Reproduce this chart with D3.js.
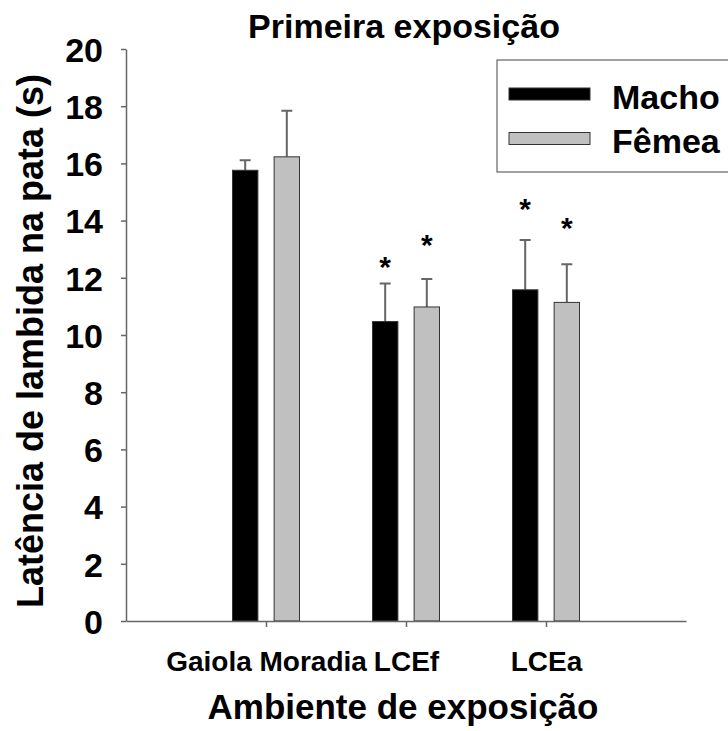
<!DOCTYPE html>
<html>
<head>
<meta charset="utf-8">
<script src="https://cdn.jsdelivr.net/npm/d3@7"></script>
<style>
  body { margin: 0; background: white; }
  svg { display: block; font-family: Arial, 'Liberation Sans', sans-serif; font-weight: bold; }
</style>
</head>
<body>
<svg width="728" height="731"></svg>
<script>
const categories = ['Gaiola Moradia', 'LCEf', 'LCEa'];
const series = ['Macho', 'Fêmea'];
const machoMeans = [15.76, 10.47, 11.58];
const machoErrors = [0.35, 1.33, 1.74];
const femeaMeans = [16.23, 10.98, 11.14];
const femeaErrors = [1.61, 0.98, 1.33];
// asterisk heights (in axis units), null = no mark
const machoStars = [null, 12.6, 14.6];
const femeaStars = [null, 13.35, 13.94];
const yTicks = [0, 2, 4, 6, 8, 10, 12, 14, 16, 18, 20];

const colors = {Macho: '#000000', 'Fêmea': '#c0c0c0'};

const svg = d3.select('svg');

const x = d3.scaleLinear().domain([0, categories.length + 1]).range([126, 686]);
const sub = d3.scaleBand().domain(series).range([-33.5, 33.5]).paddingInner(0.39);
const y = d3.scaleLinear().domain([0, 20]).range([621, 49]);

const rows = [];
categories.forEach((c, i) => {
  rows.push({cat: c, i, s: 'Macho', v: machoMeans[i], e: machoErrors[i], star: machoStars[i]});
  rows.push({cat: c, i, s: 'Fêmea', v: femeaMeans[i], e: femeaErrors[i], star: femeaStars[i]});
});
const cx = d => x(d.i + 1) + sub(d.s) + sub.bandwidth() / 2;

// error bars (upper only), drawn behind the bars
const err = svg.append('g').attr('stroke', '#666').attr('stroke-width', 2).attr('fill', 'none');
err.selectAll('path').data(rows).join('path')
  .attr('d', d => 'M ' + cx(d) + ' ' + y(d.v) + ' V ' + y(d.v + d.e) +
    ' M ' + (cx(d) - 5.5) + ' ' + y(d.v + d.e) + ' H ' + (cx(d) + 5.5));

// bars
svg.append('g').selectAll('rect').data(rows).join('rect')
  .attr('x', d => x(d.i + 1) + sub(d.s))
  .attr('y', d => y(d.v))
  .attr('width', sub.bandwidth())
  .attr('height', d => y(0) - y(d.v))
  .attr('fill', d => colors[d.s])
  .attr('stroke', '#333')
  .attr('stroke-width', 1);

// significance marks
svg.append('g').selectAll('text').data(rows.filter(d => d.star !== null)).join('text')
  .attr('x', cx)
  .attr('y', d => y(d.star) + 16)
  .attr('text-anchor', 'middle')
  .attr('font-size', 30)
  .text('*');

// y axis
const yAxis = svg.append('g')
  .attr('transform', 'translate(126, 0)')
  .call(d3.axisLeft(y).tickValues(yTicks).tickSize(5).tickPadding(18).tickSizeOuter(0));
yAxis.select('.domain').attr('stroke', '#666').attr('stroke-width', 1.5);
yAxis.selectAll('.tick line').attr('stroke', '#666').attr('stroke-width', 1.5);
yAxis.selectAll('.tick text')
  .attr('font-size', 34)
  .attr('font-family', 'Arial, "Liberation Sans", sans-serif')
  .attr('font-weight', 'bold')
  .attr('fill', '#000')
  .attr('dy', '0.36em');

// x axis
const xAxis = svg.append('g')
  .attr('transform', 'translate(0, ' + y(0) + ')')
  .call(d3.axisBottom(x).tickValues(categories.map((c, i) => i + 1))
    .tickFormat((d, i) => categories[i]).tickSize(6).tickSizeOuter(0).tickPadding(24));
xAxis.select('.domain').attr('stroke', '#666').attr('stroke-width', 1.5);
xAxis.selectAll('.tick line').attr('stroke', '#666').attr('stroke-width', 1.5);
xAxis.selectAll('.tick text')
  .attr('font-size', 28)
  .attr('font-family', 'Arial, "Liberation Sans", sans-serif')
  .attr('font-weight', 'bold')
  .attr('fill', '#000');

// titles
svg.append('text')
  .attr('x', 404).attr('y', 38)
  .attr('text-anchor', 'middle')
  .attr('font-size', 34)
  .text('Primeira exposição');

svg.append('text')
  .attr('x', 403).attr('y', 719)
  .attr('text-anchor', 'middle')
  .attr('font-size', 35)
  .text('Ambiente de exposição');

svg.append('text')
  .attr('transform', 'translate(43, 341) rotate(-90)')
  .attr('text-anchor', 'middle')
  .attr('font-size', 36)
  .text('Latência de lambida na pata (s)');

// legend
const legend = svg.append('g');
legend.append('rect')
  .attr('x', 497).attr('y', 60)
  .attr('width', 260).attr('height', 112)
  .attr('fill', 'white')
  .attr('stroke', '#444')
  .attr('stroke-width', 1);
series.forEach((s, i) => {
  const ly = 94 + i * 44.5;
  legend.append('rect')
    .attr('x', 509).attr('y', ly - 6)
    .attr('width', 81).attr('height', 12)
    .attr('fill', colors[s])
    .attr('stroke', '#333');
  legend.append('text')
    .attr('x', 612).attr('y', ly + 14.5)
    .attr('font-size', 34)
    .text(s);
});
</script>
</body>
</html>
